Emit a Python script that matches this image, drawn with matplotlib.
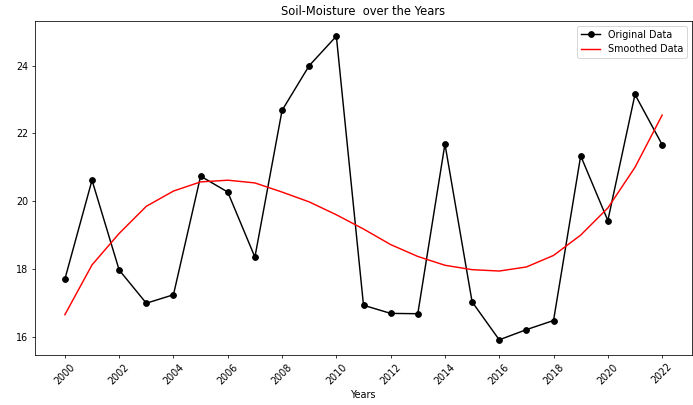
import numpy as np
import matplotlib
matplotlib.use('Agg')
import matplotlib.pyplot as plt

years = list(range(2000, 2023))
soil_moisture = [17.70, 20.62, 17.97, 16.99, 17.24, 20.74, 20.27, 18.35, 22.68, 24.00,
                 24.87, 16.93, 16.69, 16.68, 21.69, 17.03, 15.91, 16.21, 16.48, 21.34,
                 19.43, 23.15, 21.67]
smoothed = [16.65, 18.12, 19.05, 19.85, 20.30, 20.57, 20.62, 20.54, 20.27, 19.98,
            19.60, 19.18, 18.72, 18.37, 18.11, 17.98, 17.94, 18.06, 18.40, 19.00,
            19.80, 21.00, 22.54]

fig = plt.figure(figsize=(10, 405 / 69.3), dpi=69.3)
ax = fig.add_axes([35 / 693, 50 / 405, 657 / 693, 334 / 405])

ax.plot(years, soil_moisture, 'k-o', label='Original Data')
ax.plot(years, smoothed, color='red', label='Smoothed Data')

ax.set_title('Soil-Moisture  over the Years')
ax.set_xlabel('Years')
ax.set_xticks(range(2000, 2023, 2))
plt.setp(ax.get_xticklabels(), rotation=45)
ax.legend(loc='upper right')

fig.savefig('out.png', dpi=69.3)
